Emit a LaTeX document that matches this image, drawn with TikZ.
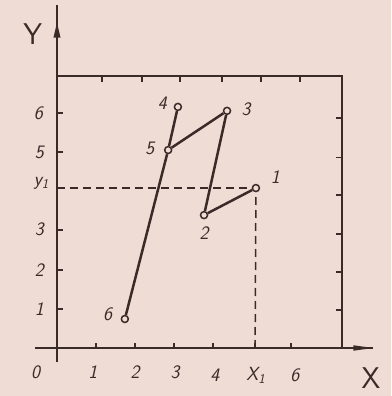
\documentclass[tikz,border=0pt]{standalone}
\usetikzlibrary{arrows.meta}
\definecolor{paper}{HTML}{EFDCD5}
\definecolor{ink}{HTML}{3A2A28}
\begin{document}
\begin{tikzpicture}[x=39pt,y=39.2pt,
  axis/.style={line width=1.9pt,draw=ink},
  seg/.style={line width=2.5pt,draw=ink},
  guide/.style={line width=1.5pt,draw=ink,dash pattern=on 8pt off 5pt},
  pt/.style={circle,draw=ink,fill=paper,line width=1.5pt,inner sep=0pt,minimum size=7pt},
  lbl/.style={text=ink,font=\fontsize{19}{19}\selectfont\sffamily\slshape,inner sep=0pt},
  big/.style={text=ink,font=\fontsize{30}{30}\selectfont\sffamily,inner sep=0pt}]
\fill[paper] (-1.4615,-1.2245) rectangle (8.5641,8.8776);
\useasboundingbox (-1.4615,-1.2245) rectangle (8.5641,8.8776);
% axes
\coordinate (ybot) at (0,-0.36);
\coordinate (ytop) at (0,8.75);
\coordinate (xl) at (-0.56,0);
\coordinate (xr) at (8.1,0);
\draw[axis] (ybot) -- (ytop);
\draw[axis] (xl) -- (xr);
\fill[ink] (-0.09,7.92) -- (0,8.3) -- (0.09,7.92) -- cycle;
\fill[ink] (7.6,-0.07) -- (8.1,0) -- (7.6,0.07) -- cycle;
% frame
\coordinate (ftl) at (0,6.94);
\coordinate (ftr) at (7.31,6.94);
\coordinate (fbr) at (7.31,0);
\draw[axis] (ftl) -- (ftr) -- (fbr);
\foreach \i in {1.15,2.17,3.15,4.22,5.22,6.22} \draw[axis] (\i,6.94) -- (\i,6.79);
\foreach \j in {0.97,1.94,2.91,3.9,4.86,5.87} \draw[axis] (7.31,\j) -- (7.16,\j);
\foreach \i in {1,2,3,4,5.08,6} \draw[axis] (\i,0) -- (\i,0.14);
\foreach \j in {1,2,3,4.08,5,6} \draw[axis] (0,\j) -- (0.16,\j);
% points
\node[pt] (p1) at (5.1,4.08) {};
\node[pt] (p2) at (3.77,3.39) {};
\node[pt] (p3) at (4.36,6.05) {};
\node[pt] (p4) at (3.1,6.15) {};
\node[pt] (p5) at (2.85,5.05) {};
\node[pt] (p6) at (1.74,0.74) {};
% dashed guides
\coordinate (y1a) at (0,4.08);
\coordinate (x1a) at (5.08,0);
\draw[guide] (y1a) -- (p1);
\draw[guide] (x1a) -- (p1);
% polyline
\draw[seg] (p1) -- (p2);
\draw[seg] (p2) -- (p3);
\draw[seg] (p3) -- (p5);
\draw[seg] (p5) -- (p4);
\draw[seg] (p5) -- (p6);
% point labels
\node[lbl] (l1) at (5.6,4.35) {1};
\node[lbl] (l2) at (3.77,2.92) {2};
\node[lbl] (l3) at (4.85,6.1) {3};
\node[lbl] (l4) at (2.7,6.25) {4};
\node[lbl] (l5) at (2.38,5.08) {5};
\node[lbl] (l6) at (1.3,0.85) {6};
% axis labels
\node[big] (ly) at (-0.62,8.0) {Y};
\node[big] (lx) at (8.05,-0.78) {X};
\node[lbl] (l0) at (-0.55,-0.62) {0};
\node[lbl] (lx1) at (0.92,-0.62) {1};
\node[lbl] (lx2) at (2.0,-0.62) {2};
\node[lbl] (lx3) at (3.03,-0.62) {3};
\node[lbl] (lx4) at (4.05,-0.7) {4};
\node[lbl] (lxx) at (5.1,-0.7) {X\textsubscript{\itshape 1}};
\node[lbl] (lx6) at (6.1,-0.7) {6};
\node[lbl] (ly1) at (-0.45,1.0) {1};
\node[lbl] (ly2) at (-0.45,1.99) {2};
\node[lbl] (ly3) at (-0.45,3.03) {3};
\node[lbl] (lyy) at (-0.4,4.2) {y\textsubscript{\itshape 1}};
\node[lbl] (ly5) at (-0.45,5.0) {5};
\node[lbl] (ly6) at (-0.48,5.99) {6};
\end{tikzpicture}
\end{document}
